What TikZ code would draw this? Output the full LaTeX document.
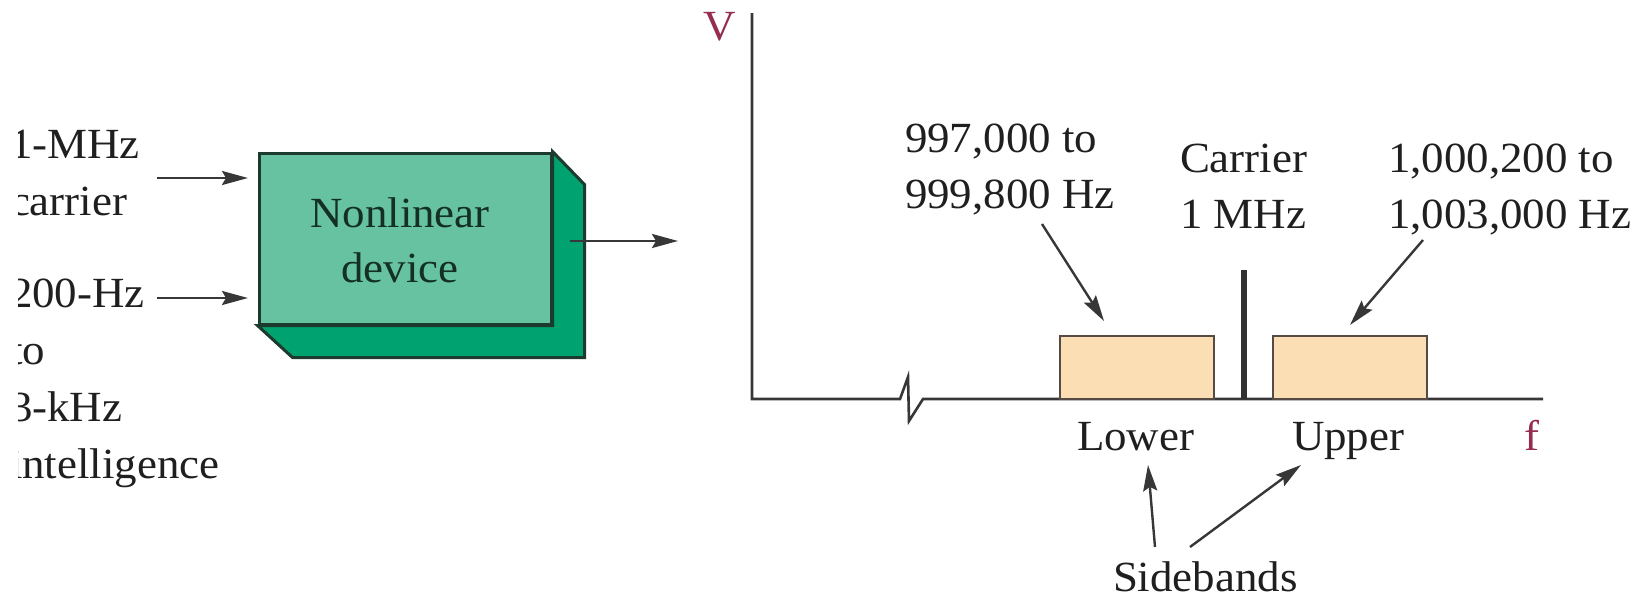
\documentclass[tikz,border=0pt]{standalone}
\usepackage{fontspec}
\setmainfont[FakeStretch=1.045]{Liberation Serif}
\usetikzlibrary{arrows.meta}
\definecolor{frontgreen}{RGB}{102,194,160}
\definecolor{backgreen}{RGB}{0,162,112}
\definecolor{boxedge}{RGB}{28,58,46}
\definecolor{boxtext}{RGB}{20,48,36}
\definecolor{peach}{RGB}{252,222,180}
\definecolor{peachedge}{RGB}{85,75,68}
\definecolor{axislbl}{RGB}{150,45,78}
\definecolor{ink}{RGB}{55,55,55}
\tikzset{
  lbl/.style={inner sep=0pt, outer sep=0pt, font=\fontsize{43}{56}\selectfont, text=black!88},
  leftlbl/.style={lbl, font=\fontsize{43}{57}\selectfont},
  arr/.style={draw=ink, line width=2.4pt, -{Stealth[length=26pt,width=14pt,inset=4pt]}},
  axisline/.style={draw=ink, line width=2.6pt, line join=miter},
  band/.style={draw=peachedge, fill=peach, line width=2.4pt},
}
\begin{document}
\begin{tikzpicture}[x=1pt,y=-1pt]
\useasboundingbox (0,0) rectangle (1650,600);
% left input labels (clipped at the left edge, as printed); base = last line
\begin{scope}
\clip (18,0) rectangle (250,600);
\node[leftlbl, anchor=base west, align=left] (carlbl) at (10,215) {1-MHz\\carrier};
\node[leftlbl, anchor=base west, align=left] (intlbl) at (10,478) {200-Hz\\to\\3-kHz\\intelligence};
\end{scope}
% nonlinear device (3-D block)
\node[draw=boxedge, fill=frontgreen, line width=3pt, minimum width=292pt, minimum height=171pt,
      inner sep=0pt] (dev) at (405,238.5) {};
\fill[backgreen, draw=boxedge, line width=3pt, line join=miter]
  (dev.north east) -- ++(32,33) -- ++(0,173) -- ++(-292,0) -- (dev.south west) -- (dev.south east) -- cycle;
\node[lbl, font=\fontsize{43}{55}\selectfont, anchor=base, align=center, text=boxtext] (devtxt) at (400,282) {Nonlinear\\device};
% input / output arrows
\coordinate (in1s) at (157,178);
\coordinate (in1e) at (248,178);
\coordinate (in2s) at (157,298);
\coordinate (in2e) at (248,298);
\coordinate (outs) at (570,241);
\coordinate (oute) at (678,241);
\draw[arr] (in1s) -- (in1e);
\draw[arr] (in2s) -- (in2e);
\draw[arr] (outs) -- (oute);
% axes
\coordinate (ytop) at (752,13);
\coordinate (orig) at (752,399);
\coordinate (xend) at (1543,399);
\draw[axisline] (ytop) -- (orig) -- (900,399) -- (908,377) -- (909,421) -- (923,399) -- (xend);
\node[lbl, anchor=base, text=axislbl] (vlbl) at (720,40) {V};
\node[lbl, anchor=base, text=axislbl] (flbl) at (1532,450) {f};
% sidebands and carrier
\draw[band] (1060,399) rectangle (1214,336);
\draw[band] (1273,399) rectangle (1427,336);
\coordinate (cartop) at (1244,270);
\coordinate (carbot) at (1244,399);
\draw[draw=ink!90!black, line width=6pt] (carbot) -- (cartop);
% labels above (base = last line)
\node[lbl, anchor=base west, align=left] (lowfreq) at (905,208) {997,000 to\\999,800 Hz};
\node[lbl, anchor=base west, align=left] (carfreq) at (1180,228) {Carrier\\1 MHz};
\node[lbl, anchor=base west, align=left] (upfreq) at (1388,228) {1,000,200 to\\1,003,000 Hz};
\coordinate (a1s) at (1042,224);
\coordinate (a1e) at (1104,321);
\coordinate (a2s) at (1423,240);
\coordinate (a2e) at (1350,325);
\draw[arr] (a1s) -- (a1e);
\draw[arr] (a2s) -- (a2e);
% labels below
\node[lbl, anchor=base west] (lower) at (1077,450) {Lower};
\node[lbl, anchor=base west] (upper) at (1292,450) {Upper};
\node[lbl, anchor=base west] (side) at (1113,591) {Sidebands};
\coordinate (s1s) at (1155,547);
\coordinate (s1e) at (1148,465);
\coordinate (s2s) at (1190,547);
\coordinate (s2e) at (1301,465);
\draw[arr] (s1s) -- (s1e);
\draw[arr] (s2s) -- (s2e);
\end{tikzpicture}
\end{document}
